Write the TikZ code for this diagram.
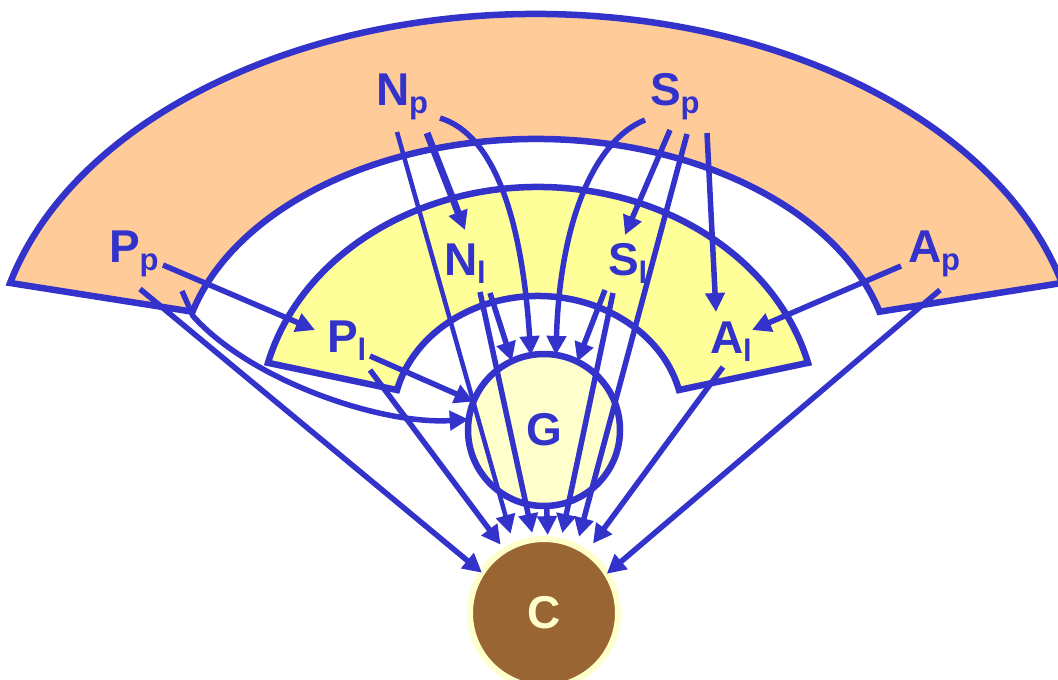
\documentclass[tikz,border=0pt]{standalone}
\usepackage{fontspec}
\setmainfont{Liberation Sans}
\usetikzlibrary{arrows.meta,calc}
\definecolor{myblue}{HTML}{3333CC}
\definecolor{orangefill}{HTML}{FFCC99}
\definecolor{yellowfill}{HTML}{FFFF99}
\definecolor{gfill}{HTML}{FFFFCC}
\definecolor{brownfill}{HTML}{996633}
\newcommand\labsub[2]{#1\raisebox{-8.5pt}{\fontsize{31pt}{31pt}\selectfont #2}}
\begin{document}
\begin{tikzpicture}[x=1pt,y=-1pt,
  shapeline/.style={draw=myblue, line width=6.5pt, line join=miter},
  lab/.style={anchor=base west, inner sep=0pt, outer sep=0pt, text=myblue, font=\bfseries\fontsize{46pt}{50pt}\selectfont},
  conn/.style={draw=myblue, line width=5.5pt, line join=round, -{Triangle[length=19pt,width=19pt]}},
  thinconn/.style={conn, line width=4.5pt},
  thickconn/.style={conn, line width=7pt},
]
\fill[white] (0,0) rectangle (1058,680);
\useasboundingbox (0,0) rectangle (1058,680);

% outer (orange) band
\coordinate (Oo) at (536,372);
\draw[shapeline, fill=orangefill]
  ($(Oo)+(165.6:543pt and 358pt)$)
  arc[start angle=165.6, end angle=14.4, x radius=543pt, y radius=358pt]
  -- ($(Oo)+(15:355.6pt and 233pt)$)
  arc[start angle=15, end angle=165, x radius=355.6pt, y radius=233pt]
  -- cycle;

% inner (yellow) band
\coordinate (Oy) at (538,420);
\draw[shapeline, fill=yellowfill]
  ($(Oy)+(165.8:278.5pt and 233pt)$)
  arc[start angle=165.8, end angle=14.2, x radius=278.5pt, y radius=233pt]
  -- ($(Oy)+(14:145.3pt and 124pt)$)
  arc[start angle=14, end angle=166, x radius=145.3pt, y radius=124pt]
  -- cycle;

% G and C
\node[circle, draw=myblue, line width=6.5pt, fill=gfill, minimum size=152pt, inner sep=0pt, outer sep=0pt,
      text=myblue, font=\bfseries\fontsize{46pt}{50pt}\selectfont] (G) at (544,430) {G};
\node[circle, draw=gfill, line width=6pt, fill=brownfill, minimum size=148pt, inner sep=0pt, outer sep=0pt,
      text=gfill, font=\bfseries\fontsize{46pt}{50pt}\selectfont] (C) at (544,613) {C};

% labels
\node[lab] (Np) at (376,105) {\labsub{N}{p}};
\node[lab] (Sp) at (650,105) {\labsub{S}{p}};
\node[lab] (Pp) at (109,262) {\labsub{P}{p}};
\node[lab] (Ap) at (908,262) {\labsub{A}{p}};
\node[lab] (Nl) at (444,275) {\labsub{N}{l}};
\node[lab] (Sl) at (608,275) {\labsub{S}{l}};
\node[lab] (Pl) at (327,352) {\labsub{P}{l}};
\node[lab] (Al) at (710,353) {\labsub{A}{l}};

% connectors from N_p
\draw[thinconn, shorten >=12pt] ($(Np.base west)+(21,27)$) -- (C.114.8);
\draw[thickconn] ($(Np.base west)+(51,28)$) -- ($(Nl.base west)+(21,-45)$);
\draw[conn] ($(Np.base west)+(64,13)$) .. controls (495,135) and (522,220) .. (G.100.6);

% connectors from S_p
\draw[conn] ($(Sp.base west)+(-5,15)$) .. controls (595,140) and (560,220) .. (G.81.7);
\draw[conn] ($(Sp.base west)+(20,25)$) -- ($(Sl.base west)+(17,-40)$);
\draw[conn, shorten >=10pt] ($(Sp.base west)+(37,29)$) -- (C.64.7);
\draw[conn] ($(Sp.base west)+(57,28)$) -- ($(Al.base west)+(6,-41)$);

% connectors from P_p
\draw[conn] ($(Pp.base west)+(54,3)$) -- ($(Pl.base west)+(-12,-22)$);
\draw[conn] ($(Pp.base west)+(31,27)$) -- (C.147.2);
\draw[conn] ($(Pp.base west)+(73,29)$) -- (193,316) .. controls (250,380) and (380,425) .. (G.172.6);

% connectors from A_p
\draw[conn] ($(Ap.base west)+(-7,4)$) -- ($(Al.base west)+(42,-23)$);
\draw[conn] ($(Ap.base west)+(32,28)$) -- (C.32.4);

% connectors from N_l
\draw[conn, shorten >=7pt] ($(Nl.base west)+(36,17)$) -- (C.98.5);
\draw[conn] ($(Nl.base west)+(46,18)$) -- (G.115.2);

% connectors from S_l
\draw[conn] ($(Sl.base west)+(-3,15)$) -- (G.64.1);
\draw[conn, shorten >=8pt] ($(Sl.base west)+(5,18)$) -- (C.77.9);

% connectors from P_l
\draw[conn] ($(Pl.base west)+(43,4)$) -- (G.158.5);
\draw[conn, shorten >=7pt] ($(Pl.base west)+(43,18)$) -- (C.122.9);

% connector from A_l
\draw[conn, shorten >=11pt] ($(Al.base west)+(13,14)$) -- (C.55.6);

% G to C
\draw[conn, shorten >=4pt] (G.-88) -- (C.87.8);
\end{tikzpicture}
\end{document}
